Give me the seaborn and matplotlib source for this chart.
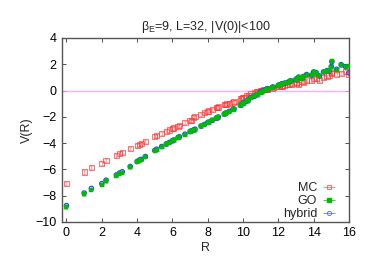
import numpy as np
import pandas as pd
import matplotlib
matplotlib.use("Agg")
import matplotlib.pyplot as plt
import seaborn as sns

# lattice distances R
R = [0, 1, 1.41, 2, 2.24, 2.83, 3, 3.16, 3.61, 4, 4.12, 4.24, 4.47, 5, 5.1, 5.39,
     5.66, 5.83, 6, 6.08, 6.32, 6.4, 6.71, 7, 7.07, 7.21, 7.28, 7.62, 7.81, 8, 8.06,
     8.25, 8.49, 8.54, 8.6, 8.94, 9, 9.06, 9.22, 9.43, 9.49, 9.85, 9.9, 10, 10.05,
     10.2, 10.3, 10.44, 10.63, 10.77, 10.82, 11, 11.05, 11.18, 11.31, 11.4, 11.66,
     11.7, 12, 12.04, 12.17, 12.21, 12.37, 12.53, 12.65, 12.73, 13, 13.04, 13.15,
     13.34, 13.42, 13.6, 13.89, 14, 14.14, 14.32, 14.56, 14.76, 14.87, 15, 15.03,
     15.3, 15.56, 15.81, 16]

V_mc = [-7.05, -6.2, -5.85, -5.55, -5.35, -4.95, -4.82, -4.7, -4.4, -4.2, -4.1, -4.05,
        -3.85, -3.5, -3.42, -3.25, -3.1, -3.0, -2.9, -2.85, -2.72, -2.65, -2.45, -2.3,
        -2.25, -2.05, -2.0, -1.8, -1.7, -1.6, -1.55, -1.45, -1.3, -1.28, -1.25, -1.08,
        -1.04, -1.02, -1.0, -0.9, -0.85, -0.65, -0.62, -0.55, -0.5, -0.42, -0.35,
        -0.27, -0.18, -0.1, -0.08, 0.0, 0.0, 0.05, 0.08, 0.12, 0.2, 0.22, 0.3, 0.32,
        0.35, 0.3, 0.4, 0.45, 0.5, 0.5, 0.55, 0.6, 0.45, 0.7, 0.65, 0.8, 0.75, 0.95,
        0.9, 0.8, 1.0, 1.1, 1.15, 1.3, 1.4, 1.2, 1.3, 1.45, 1.25]

V_go = [-8.88, -7.9, -7.55, -7.18, -6.9, -6.5, -6.35, -6.25, -5.85, -5.45, -5.35, -5.3,
        -5.07, -4.6, -4.5, -4.3, -4.1, -3.98, -3.85, -3.8, -3.6, -3.55, -3.35, -3.15,
        -3.1, -3.02, -2.97, -2.72, -2.6, -2.45, -2.42, -2.28, -2.12, -2.08, -2.04,
        -1.8, -1.75, -1.72, -1.6, -1.45, -1.42, -1.12, -1.1, -1.0, -0.95, -0.82,
        -0.75, -0.55, -0.45, -0.35, -0.3, -0.15, -0.1, 0.0, 0.05, 0.12, 0.22, 0.25,
        0.38, 0.4, 0.45, 0.5, 0.55, 0.6, 0.7, 0.72, 0.85, 0.8, 1.0, 0.9, 1.05, 1.2,
        1.15, 1.4, 1.35, 1.1, 1.4, 1.5, 1.45, 1.8, 2.25, 1.6, 1.95, 1.8, 1.9]

V_hyb = [-8.75, -7.8, -7.45, -7.08, -6.82, -6.42, -6.28, -6.18, -5.78, -5.4, -5.3,
         -5.24, -5.02, -4.56, -4.46, -4.26, -4.06, -3.95, -3.82, -3.76, -3.57, -3.52,
         -3.32, -3.12, -3.07, -2.99, -2.94, -2.7, -2.58, -2.43, -2.4, -2.26, -2.1,
         -2.06, -2.02, -1.78, -1.73, -1.7, -1.58, -1.43, -1.4, -1.1, -1.08, -0.98,
         -0.93, -0.8, -0.73, -0.53, -0.43, -0.33, -0.28, -0.13, -0.08, 0.02, 0.07,
         0.14, 0.24, 0.27, 0.4, 0.42, 0.47, 0.52, 0.57, 0.62, 0.72, 0.74, 0.87, 0.82,
         1.02, 0.92, 1.07, 1.22, 1.17, 1.42, 1.37, 1.12, 1.42, 1.52, 1.47, 1.82, 2.2,
         1.62, 1.97, 1.82, 1.35]

err_mc = 0.12
err_go = 0.1
err_hyb = 0.15

sns.set_theme(style="ticks")
plt.rcParams['font.family'] = ['Liberation Sans', 'DejaVu Sans']

fig = plt.figure(figsize=(3.74, 2.62), dpi=100)
ax = fig.add_axes([0.166, 0.153, 0.767, 0.702])

ax.axhline(0, color='#ff99ff', lw=1.0, alpha=0.8, zorder=1)

df = pd.DataFrame({'R': R * 3,
                   'V': V_mc + V_go + V_hyb,
                   'set': ['MC'] * len(R) + ['GO'] * len(R) + ['hybrid'] * len(R)})

ax.errorbar(R, V_mc, yerr=err_mc, fmt='none', ecolor='#ff4444', elinewidth=0.5,
            capsize=1.2, capthick=0.5, alpha=0.6, zorder=2)
ax.errorbar(R, V_go, yerr=err_go, fmt='none', ecolor='#00cc00', elinewidth=0.5,
            capsize=1.2, capthick=0.5, alpha=0.6, zorder=2)
ax.errorbar(R, V_hyb, yerr=err_hyb, fmt='none', ecolor='#4466ff', elinewidth=0.5,
            capsize=1.2, capthick=0.5, alpha=0.6, zorder=2)

sub = df[df['set'] == 'MC']
sns.scatterplot(data=sub, x='R', y='V', marker='s', s=14, facecolor='none',
                edgecolor='#ff3333', linewidth=0.6, alpha=0.8, ax=ax, zorder=3)
sub = df[df['set'] == 'hybrid']
sns.scatterplot(data=sub, x='R', y='V', marker='o', s=10, facecolor='none',
                edgecolor='#2244ff', linewidth=0.8, ax=ax, zorder=4)
sub = df[df['set'] == 'GO']
sns.scatterplot(data=sub, x='R', y='V', marker='s', s=7, color='#00bb00',
                edgecolor='#00bb00', linewidth=0.3, ax=ax, zorder=5)

# legend handles in gnuplot style
h_mc = ax.errorbar([], [], xerr=1, fmt='s', ms=3.5, mfc='none', mec='#ff5555',
                   ecolor='#ff5555', elinewidth=0.5, capsize=1.5, mew=0.6)
h_go = ax.errorbar([], [], xerr=1, fmt='s', ms=3, color='#00bb00',
                   ecolor='#00bb00', elinewidth=0.5, capsize=1.5)
h_hy = ax.errorbar([], [], xerr=1, fmt='o', ms=3, mfc='none', mec='#4466ff',
                   ecolor='#4466ff', elinewidth=0.5, capsize=1.5, mew=0.6)
ax.legend([h_mc, h_go, h_hy], ['MC', 'GO', 'hybrid'], loc='lower right',
          frameon=False, markerfirst=False, fontsize=9, handlelength=0.9,
          handletextpad=0.5, labelspacing=0.08, borderaxespad=0.0,
          borderpad=0.0, bbox_to_anchor=(0.95, 0.01))

ax.set_xlim(-0.25, 16)
ax.set_ylim(-10, 4)
ax.set_xticks(np.arange(0, 17, 2))
ax.set_yticks(np.arange(-10, 5, 2))
ax.tick_params(direction='in', top=True, right=True, length=3, width=0.6,
               labelsize=9, colors='#333333', labelcolor='black', pad=4)
for sp in ax.spines.values():
    sp.set_color('#555555')
    sp.set_linewidth(1.0)
ax.set_xlabel('R', fontsize=9, labelpad=2)
ax.set_ylabel('V(R)', fontsize=9, labelpad=2)
ax.set_title('β$_\\mathregular{E}$=9, L=32, |V(0)|<100', fontsize=9, pad=6)

fig.savefig('out.png', dpi=100)
